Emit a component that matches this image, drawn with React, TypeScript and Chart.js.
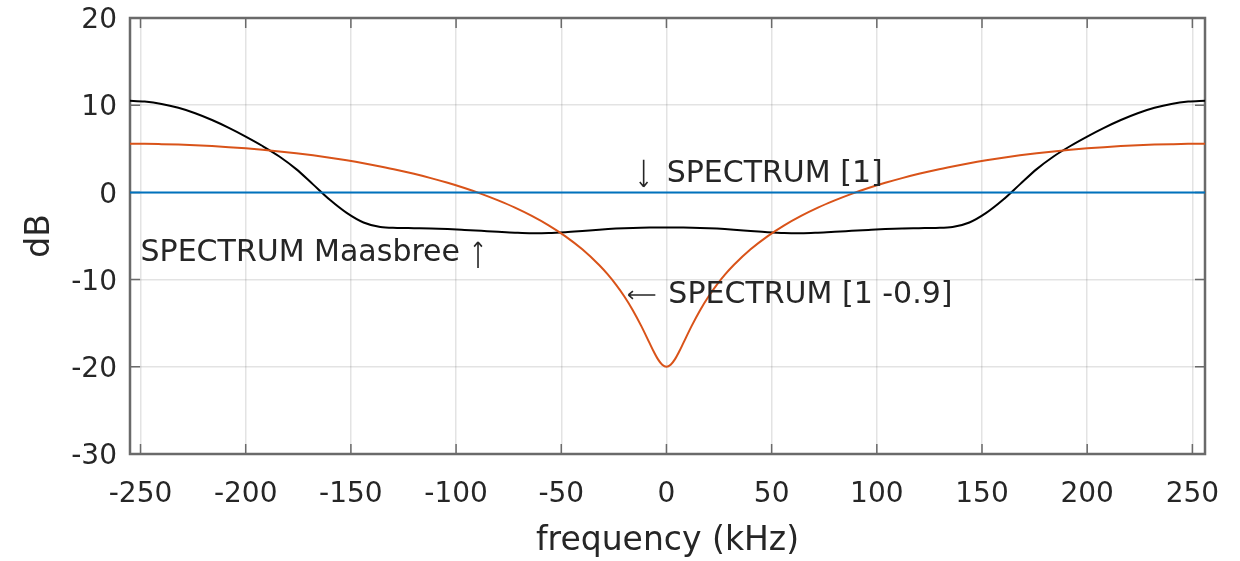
import React, { useEffect, useRef } from 'react';
import { Chart, registerables } from 'chart.js';

Chart.register(...registerables);

// ---- data ----
const xTicks = [-250, -200, -150, -100, -50, 0, 50, 100, 150, 200, 250];
const yTicks = [-30, -20, -10, 0, 10, 20];

const freqFlat = [-256, 256];
const spectrum1 = [0, 0];

const freqBlack = [
  -256, -248, -240, -232, -224, -216, -208, -200, -192, -184, -176, -168, -160,
  -152, -144, -136, -128, -120, -112, -104, -96, -88, -80, -72, -64, -56, -48,
  -40, -32, -24, -16, -8, 0, 8, 16, 24, 32, 40, 48, 56, 64, 72, 80, 88, 96, 104,
  112, 120, 128, 136, 144, 152, 160, 168, 176, 184, 192, 200, 208, 216, 224, 232,
  240, 248, 256,
];
const spectrumMaasbree = [
  10.52, 10.42, 10.15, 9.7, 9.08, 8.3, 7.4, 6.4, 5.32, 4.12, 2.67, 0.92, -0.85,
  -2.35, -3.45, -3.97, -4.07, -4.1, -4.13, -4.2, -4.3, -4.41, -4.52, -4.62, -4.68, -4.66, -4.56,
  -4.42, -4.27, -4.15, -4.07, -4.03, -4.02, -4.03, -4.07, -4.15, -4.27, -4.42, -4.56, -4.66, -4.68, -4.62, -4.52, -4.41, -4.3, -4.2,
  -4.13, -4.1, -4.07, -3.97, -3.45, -2.35, -0.85, 0.92, 2.67, 4.12, 5.32, 6.4, 7.4, 8.3, 9.08, 9.7,
  10.15, 10.42, 10.52,
];

const freqOrange = [
  -256, -248, -240, -232, -224, -216, -208, -200, -192, -184, -176, -168, -160,
  -152, -144, -136, -128, -120, -112, -104, -96, -88, -80, -72, -64, -56, -48, -40, -32,
  -28, -24, -20, -16, -12, -8, -6, -4, -2, 0, 2, 4, 6, 8, 12, 16, 20, 24, 28,
  32, 40, 48, 56, 64, 72, 80, 88, 96, 104, 112, 120, 128, 136, 144, 152, 160,
  168, 176, 184, 192, 200, 208, 216, 224, 232, 240, 248, 256,
];
const spectrum09 = [
  5.58, 5.57, 5.53, 5.48, 5.41, 5.31, 5.19, 5.05, 4.89, 4.7, 4.49, 4.25, 3.98,
  3.68, 3.35, 2.98, 2.58, 2.13, 1.64, 1.1, 0.5, -0.17, -0.92, -1.75, -2.7, -3.78, -5.04, -6.53, -8.33,
  -9.38, -10.58, -11.94, -13.51, -15.31, -17.29, -18.28, -19.15, -19.77, -20.0, -19.77, -19.15, -18.28, -17.29, -15.31, -13.51, -11.94, -10.58, -9.38,
  -8.33, -6.53, -5.04, -3.78, -2.7, -1.75, -0.92, -0.17, 0.5, 1.1, 1.64, 2.13, 2.58, 2.98, 3.35, 3.68, 3.98,
  4.25, 4.49, 4.7, 4.89, 5.05, 5.19, 5.31, 5.41, 5.48, 5.53, 5.57, 5.58,
];

const notes = [
  { text: 'SPECTRUM [1]', x: 0.1, y: 1.23, arrow: 'down' },
  { text: 'SPECTRUM Maasbree', x: -250, y: -7.87, arrow: 'up' },
  { text: 'SPECTRUM [1 -0.9]', x: 0.9, y: -12.68, arrow: 'left' },
];

// ---- styles ----
const FONT = "'DejaVu Sans', sans-serif";
const TEXT = '#262626';
const AXIS = '#6a6a6a';
const GRID = 'rgba(0,0,0,0.11)';

const toXY = (xs: number[], ys: number[]) => xs.map((x, i) => ({ x, y: ys[i] }));

function drawArrow(ctx: CanvasRenderingContext2D, x1: number, y1: number, x2: number, y2: number) {
  const ang = Math.atan2(y2 - y1, x2 - x1);
  const h = 6;
  ctx.beginPath();
  ctx.moveTo(x1, y1);
  ctx.lineTo(x2, y2);
  ctx.moveTo(x2, y2);
  ctx.lineTo(x2 - h * Math.cos(ang - 0.7), y2 - h * Math.sin(ang - 0.7));
  ctx.moveTo(x2, y2);
  ctx.lineTo(x2 - h * Math.cos(ang + 0.7), y2 - h * Math.sin(ang + 0.7));
  ctx.stroke();
}

const framePlugin = {
  id: 'matlabFrame',
  beforeDatasetsDraw(chart: any) {
    const { ctx, chartArea: a, scales } = chart;
    const tl = 10;
    ctx.save();
    ctx.strokeStyle = AXIS;
    ctx.lineWidth = 1.5;
    ctx.beginPath();
    xTicks.forEach((v) => {
      const px = scales.x.getPixelForValue(v);
      ctx.moveTo(px, a.bottom);
      ctx.lineTo(px, a.bottom - tl);
      ctx.moveTo(px, a.top);
      ctx.lineTo(px, a.top + tl);
    });
    yTicks.forEach((v) => {
      const py = scales.y.getPixelForValue(v);
      ctx.moveTo(a.left, py);
      ctx.lineTo(a.left + tl, py);
      ctx.moveTo(a.right, py);
      ctx.lineTo(a.right - tl, py);
    });
    ctx.stroke();
    ctx.lineWidth = 2.5;
    ctx.strokeRect(a.left, a.top, a.right - a.left, a.bottom - a.top);
    ctx.restore();
  },
  afterDatasetsDraw(chart: any) {
    const { ctx, scales } = chart;
    ctx.save();
    ctx.font = `30px ${FONT}`;
    ctx.fillStyle = TEXT;
    ctx.strokeStyle = TEXT;
    ctx.lineWidth = 1.6;
    ctx.textAlign = 'left';
    ctx.textBaseline = 'alphabetic';
    notes.forEach((n) => {
      const px = scales.x.getPixelForValue(n.x);
      const py = scales.y.getPixelForValue(n.y);
      ctx.fillText(n.text, px, py);
      const w = ctx.measureText(n.text).width;
      if (n.arrow === 'down') drawArrow(ctx, px - 23, py - 22, px - 23, py + 5);
      if (n.arrow === 'up') drawArrow(ctx, px + w + 18, py + 7, px + w + 18, py - 19);
      if (n.arrow === 'left') drawArrow(ctx, px - 13, py - 8, px - 40, py - 8);
    });
    ctx.restore();
  },
};

export default function App() {
  const ref = useRef<HTMLCanvasElement | null>(null);

  useEffect(() => {
    if (!ref.current) return;
    const chart = new Chart(ref.current, {
      type: 'line',
      data: {
        datasets: [
          {
            label: 'SPECTRUM [1]',
            data: toXY(freqFlat, spectrum1),
            borderColor: '#0072BD',
            borderWidth: 2,
            pointRadius: 0,
          },
          {
            label: 'SPECTRUM [1 -0.9]',
            data: toXY(freqOrange, spectrum09),
            borderColor: '#D95319',
            borderWidth: 2,
            pointRadius: 0,
            cubicInterpolationMode: 'monotone',
          },
          {
            label: 'SPECTRUM Maasbree',
            data: toXY(freqBlack, spectrumMaasbree),
            borderColor: '#000000',
            borderWidth: 2,
            pointRadius: 0,
            cubicInterpolationMode: 'monotone',
          },
        ],
      },
      options: {
        animation: false,
        responsive: false,
        devicePixelRatio: 1,
        layout: { padding: { left: 0, right: 35, top: 18, bottom: 0 } },
        plugins: { legend: { display: false }, tooltip: { enabled: false } },
        scales: {
          x: {
            type: 'linear',
            min: -255,
            max: 256,
            afterBuildTicks: (s: any) => {
              s.ticks = xTicks.map((v) => ({ value: v }));
            },
            afterFit: (s: any) => {
              s.height = 107;
              s.paddingLeft = 0;
              s.paddingRight = 0;
            },
            grid: { color: GRID, lineWidth: 1.5, drawTicks: false },
            border: { display: false },
            ticks: {
              color: TEXT,
              font: { family: FONT, size: 28 },
              padding: 24,
              maxRotation: 0,
              autoSkip: false,
            },
            title: {
              display: true,
              text: 'frequency (kHz)',
              color: TEXT,
              font: { family: FONT, size: 33 },
              padding: { top: 0, bottom: 0 },
            },
          },
          y: {
            type: 'linear',
            min: -30,
            max: 20,
            afterBuildTicks: (s: any) => {
              s.ticks = yTicks.map((v) => ({ value: v }));
            },
            afterFit: (s: any) => {
              s.width = 130;
              s.paddingTop = 0;
              s.paddingBottom = 0;
            },
            grid: { color: GRID, lineWidth: 1.5, drawTicks: false },
            border: { display: false },
            ticks: {
              color: TEXT,
              font: { family: FONT, size: 28 },
              padding: 13,
              labelOffset: 3,
            },
            title: {
              display: true,
              text: 'dB',
              color: TEXT,
              font: { family: FONT, size: 33 },
              padding: { top: 21, bottom: 0 },
            },
          },
        },
      },
      plugins: [framePlugin],
    });
    return () => chart.destroy();
  }, []);

  return (
    <div style={{ position: 'absolute', left: 0, top: 0, width: 1240, height: 561, background: '#fff' }}>
      <canvas ref={ref} width={1240} height={561} style={{ display: 'block' }} />
    </div>
  );
}
